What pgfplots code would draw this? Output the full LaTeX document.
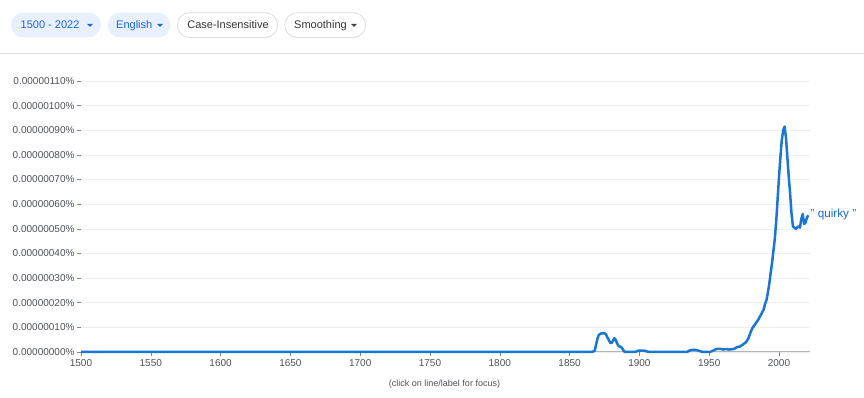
\documentclass[border=0pt]{standalone}
\usepackage{fontspec}
\setmainfont{Liberation Sans}
\usepackage{pgfplots}
\pgfplotsset{compat=1.18}
\definecolor{gblue}{HTML}{1976D2}
\definecolor{btext}{HTML}{1967D2}
\definecolor{bfill}{HTML}{E8F0FE}
\definecolor{bborder}{HTML}{DADCE0}
\definecolor{ticktext}{HTML}{4D5156}
\definecolor{gridc}{HTML}{EEEEEE}
\definecolor{axisc}{HTML}{B0B3B8}
\begin{document}
\begin{tikzpicture}[x=1pt,y=1pt]
\fill[white] (0,0) rectangle (864,398);
\path[use as bounding box] (0,0) rectangle (864,398);
% top controls
\fill[bfill,rounded corners=12.4pt] (11,360.5) rectangle (101,385.3);
\node[anchor=base west,inner sep=0,text=btext,font=\fontsize{11}{13}\selectfont] at (20.5,369.1) {1500 - 2022};
\fill[btext] (87,374.2) -- (93,374.2) -- (90,371.2) -- cycle;
\fill[bfill,rounded corners=12.4pt] (107.7,360.5) rectangle (170.3,385.3);
\node[anchor=base west,inner sep=0,text=btext,font=\fontsize{11}{13}\selectfont] at (116,369.1) {English};
\fill[btext] (157,374.2) -- (163,374.2) -- (160,371.2) -- cycle;
\draw[bborder,fill=white,rounded corners=12.4pt,line width=0.8pt] (177.3,360.5) rectangle (277.7,385.3);
\node[anchor=base,inner sep=0,text=black!80,font=\fontsize{11}{13}\selectfont] at (228,369.1) {Case-Insensitive};
\draw[bborder,fill=white,rounded corners=12.4pt,line width=0.8pt] (284.7,360.5) rectangle (365.7,385.3);
\node[anchor=base west,inner sep=0,text=black!80,font=\fontsize{11}{13}\selectfont] at (294,369.1) {Smoothing};
\fill[black!75] (351,374.2) -- (357,374.2) -- (354,371.2) -- cycle;
\draw[bborder,line width=1pt] (0,344.3) -- (864,344.3);
\begin{axis}[
  at={(81pt,46pt)}, anchor=south west,
  scale only axis, width=728.7pt, height=271pt,
  xmin=1500, xmax=2022, ymin=0, ymax=11,
  axis x line*=bottom, axis y line*=left,
  x axis line style={axisc, line width=1pt, -},
  y axis line style={draw=none},
  xtick={1500,1550,...,2000},
  xticklabels={1500,1550,1600,1650,1700,1750,1800,1850,1900,1950,2000},
  ytick={0,1,...,11},
  yticklabels={0.00000000\%,0.00000010\%,0.00000020\%,0.00000030\%,0.00000040\%,0.00000050\%,0.00000060\%,0.00000070\%,0.00000080\%,0.00000090\%,0.00000100\%,0.00000110\%},
  tick align=outside, major tick length=4pt,
  tick style={ticktext!70, line width=0.6pt},
  ticklabel style={font=\fontsize{10}{12}\selectfont, text=ticktext},
  yticklabel style={xshift=1pt},
  ymajorgrids, grid style={gridc, line width=0.6pt},
  clip=false,
]
\addplot[gblue, line width=2.5pt, line join=round] coordinates {
(1500,0) (1866,0) (1868,0.05) (1869,0.3) (1870,0.55) (1871,0.70) (1873,0.76) (1875,0.76)
(1876,0.72) (1877,0.6) (1878,0.5) (1879,0.38) (1880,0.36) (1881,0.45) (1882,0.56)
(1883,0.5) (1884,0.35) (1885,0.25) (1886,0.22) (1887,0.2) (1888,0.12) (1889,0.03)
(1890,0) (1897,0) (1899,0.05) (1903,0.06) (1905,0.03) (1907,0) (1934,0) (1936,0.06)
(1938,0.09) (1941,0.08) (1943,0.04) (1945,0.01) (1951,0.01) (1953,0.06) (1955,0.12)
(1958,0.13) (1960,0.1) (1962,0.12) (1964,0.1) (1966,0.11) (1968,0.13) (1970,0.2)
(1972,0.22) (1974,0.3) (1976,0.38) (1977,0.45) (1978,0.55) (1980,0.85) (1981,0.98)
(1982,1.05) (1984,1.22) (1985,1.30) (1987,1.5) (1988,1.62) (1989,1.72) (1990,1.95)
(1991,2.1) (1992,2.4) (1993,2.75) (1994,3.2) (1995,3.6) (1996,4.1) (1997,4.6)
(1998,5.3) (1999,6.2) (2000,7.1) (2001,7.9) (2002,8.6) (2003,9.0) (2004,9.15)
(2005,8.7) (2006,7.9) (2007,7.1) (2008,6.4) (2009,5.6) (2010,5.1) (2011,5.05)
(2012,5.0) (2013,5.05) (2014,5.1) (2015,5.05) (2016,5.4) (2017,5.6) (2018,5.2)
(2019,5.25) (2020,5.45) (2021,5.55)
};
\end{axis}
\node[anchor=west,inner sep=0,text=btext,font=\fontsize{11.7}{13}\selectfont] at (810.5,184) {" quirky "};
\node[inner sep=0,text=ticktext,font=\fontsize{9}{11}\selectfont] at (444.5,13.5) {(click on line/label for focus)};
\end{tikzpicture}
\end{document}
